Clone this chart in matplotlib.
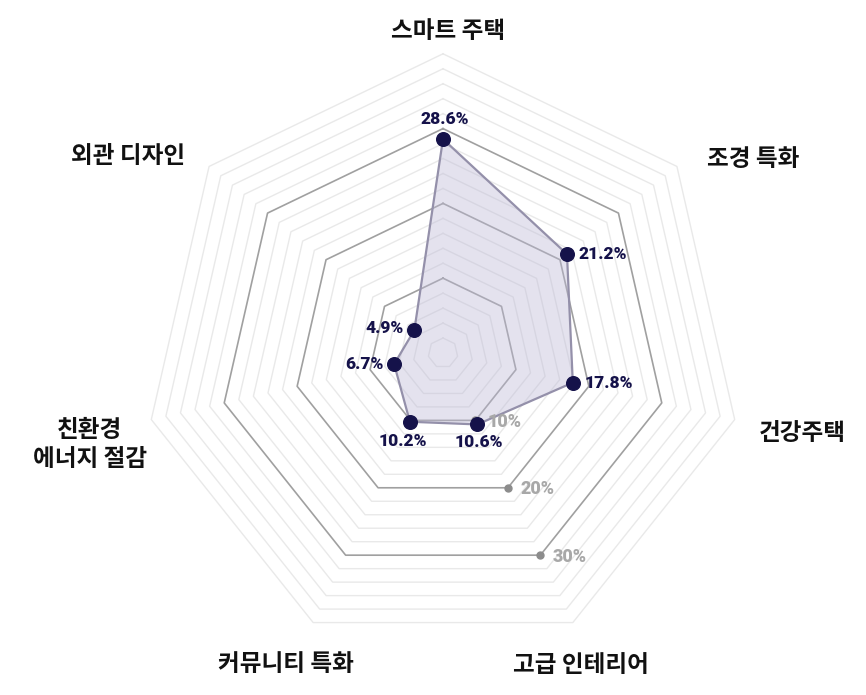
import numpy as np
import matplotlib
matplotlib.use("Agg")
import matplotlib.pyplot as plt

categories = ["스마트 주택", "조경 특화", "건강주택", "고급 인테리어",
              "커뮤니티 특화", "친환경\n에너지 절감", "외관 디자인"]
values = [28.6, 21.2, 17.8, 10.6, 10.2, 6.7, 4.9]
value_labels = ["28.6%", "21.2%", "17.8%", "10.6%", "10.2%", "6.7%", "4.9%"]
major_ticks = [10, 20, 30]
major_tick_labels = ["10%", "20%", "30%"]
minor_ticks = [r for r in range(2, 41, 2) if r not in (10, 20, 30)]

# label placement (angle deg clockwise from top, radius in data units)
cat_pos = [(0.9, 43.0), (57.9, 48.9), (102.6, 49.2), (156.2, 45.6),
           (206.7, 46.6), (255.5, 48.8), (302.0, 49.7)]
# value label offsets in pixels (dx, dy up positive), alignment
val_off = [((2, 20), "center"), ((12, 0), "left"), ((12, 0), "left"),
           ((1, -18), "center"), ((-7, -19), "center"), ((-11, 0), "right"),
           ((-11, 2), "right")]

W, H = 866, 695
fig = plt.figure(figsize=(W / 100, H / 100), dpi=100)
cx, cy = 443, 353
scale = 7.48  # px per percent
rmax = 44
R = rmax * scale
ax = fig.add_axes([(cx - R) / W, (H - cy - R) / H, 2 * R / W, 2 * R / H],
                  projection="polar")
ax.set_theta_zero_location("N")
ax.set_theta_direction(-1)
ax.set_ylim(0, rmax)
ax.grid(False)
ax.set_xticks([])
ax.set_yticks([])
ax.spines["polar"].set_visible(False)
ax.patch.set_alpha(0)

n = len(categories)
theta = np.linspace(0, 2 * np.pi, n, endpoint=False)
theta_c = np.append(theta, theta[0])

for r in minor_ticks:
    ax.plot(theta_c, [r] * (n + 1), color="#e9e9e9", lw=1.0, zorder=1)
for r in major_ticks:
    ax.plot(theta_c, [r] * (n + 1), color="#a0a0a0", lw=1.2, zorder=1)

vals_c = values + values[:1]
ax.fill(theta_c, vals_c, color="#bcb8d6", alpha=0.4, zorder=2, lw=0)
ax.plot(theta_c, vals_c, color="#9490aa", lw=1.6, zorder=3)

# tick markers on the 고급 인테리어 axis
tick_theta = theta[3]
ax.plot([tick_theta] * len(major_ticks), major_ticks, "o", color="#8c8c8c",
        ms=5, zorder=3, clip_on=False)
for r, lab in zip(major_ticks, major_tick_labels):
    ax.annotate(lab, (tick_theta, r), xytext=(9, -1), textcoords="offset points",
                ha="left", va="center", color="#a8a8a8", fontsize=13,
                family="Roboto", weight="black", zorder=5)

ax.plot(theta, values, "o", color="#15124a", ms=9.8, zorder=4, clip_on=False)
for t, v, lab, (off, ha) in zip(theta, values, value_labels, val_off):
    ax.annotate(lab, (t, v), xytext=(off[0] * 0.72, off[1] * 0.72),
                textcoords="offset points", ha=ha, va="center",
                color="#15124a", fontsize=12.5, family="Roboto",
                weight="black", zorder=5)

for lab, (ang, rr) in zip(categories, cat_pos):
    ax.text(np.deg2rad(ang), rr, lab, ha="center", va="center",
            fontsize=17, family=["Noto Sans CJK KR", "DejaVu Sans"],
            weight="bold", color="#111111", linespacing=1.25,
            clip_on=False)

fig.savefig("out.png", dpi=100)
